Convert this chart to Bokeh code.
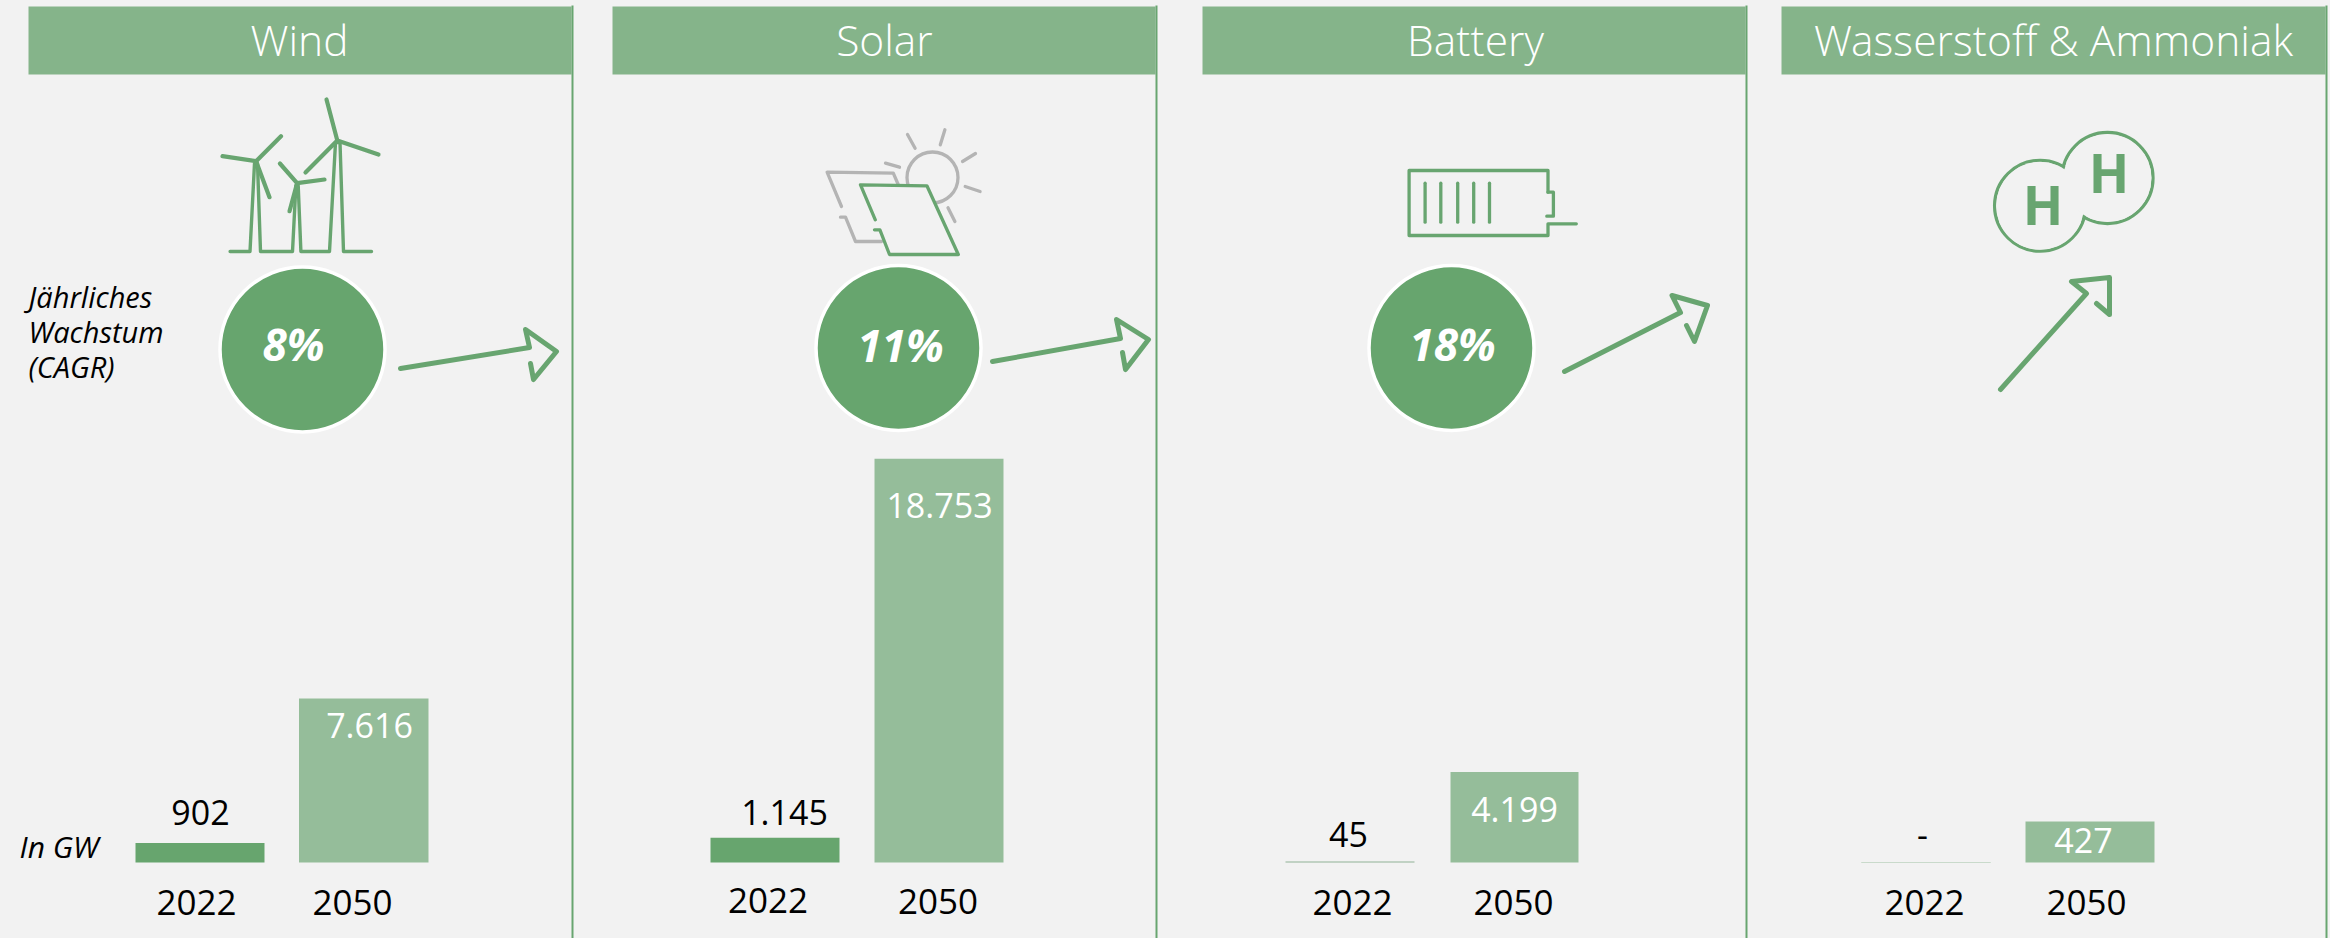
from bokeh.plotting import figure
from bokeh.embed import file_html
from bokeh.resources import INLINE
from bokeh.core.properties import value
from bokeh.models import Range1d

# ---- chart data ----
panels = ["Wind", "Solar", "Battery", "Wasserstoff & Ammoniak"]
years = ["2022", "2050"]
gw_2022 = [902, 1145, 45, 0]
gw_2050 = [7616, 18753, 4199, 427]
labels_2022 = ["902", "1.145", "45", "-"]
labels_2050 = ["7.616", "18.753", "4.199", "427"]
cagr = ["8%", "11%", "18%"]

# ---- style ----
BG = "#f2f2f2"
HEAD = "#85b48a"
LINE = "#68a570"
DARK = "#67a56e"
LIGHT = "#95bd9a"
GREY = "#b4b4b4"
FONT = "Open Sans"
W, H = 2330, 938
BASE = 862
K = 164 / 7616          # px per GW, first three panels
K_H2 = 41 / 427         # px per GW, hydrogen panel has its own scale

p = figure(width=W, height=H, output_backend="svg", toolbar_location=None,
           x_range=Range1d(0, W), y_range=Range1d(H, 0),
           min_border=0, background_fill_color=BG, border_fill_color=BG,
           outline_line_color=None)
p.axis.visible = False
p.grid.visible = False
p.extra_y_ranges = {
    "gw": Range1d(-(H - BASE) / K, BASE / K),
    "gw_h2": Range1d(-(H - BASE) / K_H2, BASE / K_H2),
}


def txt(x, y, s, size, color="#000000", style="normal", align="center", font=FONT):
    # y is the wanted baseline; the renderer sets alphabetic text about 0.4em lower
    p.text([x], [y - 0.4 * size], text=[s], text_font=value(font), text_font_size=f"{size}px",
           text_color=color, text_font_style=style, text_align=align,
           text_baseline="alphabetic")


def poly(xs, ys, color=LINE, w=3.3):
    p.line(xs, ys, line_color=color, line_width=w, line_cap="round", line_join="round")


# ---- headers and separators ----
head_l = [28, 612, 1202, 1781]
head_r = [571, 1155, 1745, 2325]
head_c = [299, 884, 1475, 2053]
for i, name in enumerate(panels):
    p.quad(left=[head_l[i]], right=[head_r[i]], top=[6], bottom=[74],
           fill_color=HEAD, line_color=None)
    p.line([head_r[i] + 1] * 2, [5, H], line_color=LINE, line_width=2)
    txt(head_c[i], 56, name, 42.5, "#ffffff", font="Open Sans Light")

# ---- bars ----
x22 = [[135, 264], [710, 839], [1285, 1414], [1861, 1990]]
x50 = [[298.5, 428], [874, 1003], [1450, 1578], [2025, 2154]]
for i in range(4):
    rng = "gw_h2" if i == 3 else "gw"
    col22 = DARK if i < 2 else "#8fb296" if i == 2 else "#c9dacb"
    p.quad(left=[x22[i][0]], right=[x22[i][1]], bottom=[0], top=[gw_2022[i]],
           fill_color=col22, line_color=col22 if i == 3 else None, line_width=1,
           y_range_name=rng)
    p.quad(left=[x50[i][0]], right=[x50[i][1]], bottom=[0], top=[gw_2050[i]],
           fill_color=LIGHT, line_color=None, y_range_name=rng)

# ---- bar labels ----
lab22 = [(200, 826), (784, 826), (1348, 848), (1922, 848)]
lab50 = [(369, 739), (939, 519), (1514, 823), (2083, 854)]
yr22 = [(196, 916), (767.5, 914), (1352, 916), (1924, 916)]
yr50 = [(352, 916), (937.5, 915), (1513, 916), (2086, 916)]
for i in range(4):
    txt(*lab22[i], labels_2022[i], 34)
    txt(*lab50[i], labels_2050[i], 34, "#ffffff")
    txt(*yr22[i], years[0], 35)
    txt(*yr50[i], years[1], 35)

# ---- side notes ----
txt(28, 308, "Jährliches", 29, style="italic", align="left")
txt(28, 343, "Wachstum", 29, style="italic", align="left")
txt(28, 378, "(CAGR)", 29, style="italic", align="left")
txt(19, 858, "In GW", 30, style="italic", align="left")

# ---- CAGR circles ----
cx = [302, 898, 1451]
cy = [349, 347.5, 347.5]
tx = [(293, 361), (900, 362), (1452, 361)]
for i in range(3):
    p.circle([cx[i]], [cy[i]], radius=82.5, fill_color=DARK,
             line_color="#ffffff", line_width=3.5)
    txt(*tx[i], cagr[i], 44, "#ffffff", style="bold italic")

# ---- arrows ----
poly([400, 529, 525, 556, 533, 530], [368, 347, 329, 351, 379, 363], w=5)
poly([992, 1120, 1116, 1148, 1125, 1122], [361, 338, 319, 339, 369, 352], w=5)
poly([1564, 1680, 1671.5, 1707, 1694, 1686], [371, 312, 295, 305, 341, 325], w=5)
poly([2000, 2086, 2071, 2109, 2109, 2096], [389, 293, 281, 277, 314, 303], w=5)

# ---- wind icon ----
poly([229.6, 249.5, 254, 257, 260, 292, 295.4, 297.7, 300.4, 329, 335, 339.5, 343, 371],
     [251, 251, 163, 163, 251, 251, 185, 185, 251, 251, 142, 142, 251, 251], w=3.4)
for hx, hy, tips in [
    (255.6, 160.7, [(280.5, 135.7), (222, 155.7), (269, 196.7)]),
    (296.6, 182.7, [(279.4, 163), (324, 179), (289, 210.7)]),
    (336.8, 140, [(326, 99), (378, 154), (305, 172)]),
]:
    for tipx, tipy in tips:
        poly([hx, tipx], [hy, tipy], w=4.2)

# ---- solar icon ----
poly([841, 826.6, 892.8, 897.7], [206, 171.7, 172.7, 184], GREY)
poly([840, 845, 855, 881], [216.7, 216.7, 241, 241], GREY)
p.circle([932], [177], radius=25.5, fill_color=None, line_color=GREY, line_width=3.3)
for a, b, c, d in [(907, 134, 914.6, 147.7), (944.4, 129.3, 939.8, 144.3),
                   (975, 153, 962, 161), (979.6, 191, 964.7, 186),
                   (947.5, 207.3, 954.4, 221), (885, 162.7, 899, 166.7)]:
    poly([a, c], [b, d], GREY)
p.patch([860, 926.4, 957.8, 889], [184.3, 185.3, 254, 254], fill_color=BG, line_color=None)
poly([874.8, 860, 926.4, 957.8, 889, 879.4, 874], [219.3, 184.3, 185.3, 254, 254, 229.3, 229.3])

# ---- battery icon ----
poly([1575.8, 1547.5, 1547.5, 1408.6, 1408.6, 1547.5, 1547.5],
     [223.3, 223.3, 235, 235, 170, 170, 191.7])
poly([1547.5, 1552.9, 1552.9, 1546.3], [191.7, 191.7, 215.7, 215.7])
for bx in [1424.6, 1440.3, 1457.2, 1473.2, 1489]:
    poly([bx, bx], [182.7, 221.7])

# ---- hydrogen icon ----
h_x = [2039.6, 2107]
h_y = [205.3, 177.5]
p.circle(h_x, h_y, radius=45.5, fill_color=None, line_color=LINE, line_width=3.3)
p.circle(h_x, h_y, radius=44, fill_color=BG, line_color=None)
txt(2042.5, 225, "H", 53, LINE, style="bold")
txt(2108.6, 193, "H", 53, LINE, style="bold")

html = file_html(p, INLINE)
html = html.replace("</head>", "<style>html,body{margin:0;padding:0;background:#f2f2f2;overflow:hidden}</style></head>", 1)
open("out.html", "w").write(html)
